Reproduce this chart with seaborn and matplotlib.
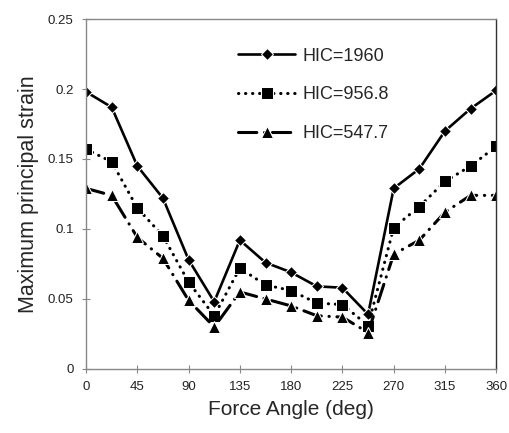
import numpy as np
import pandas as pd
import matplotlib
matplotlib.use("Agg")
import matplotlib.pyplot as plt
import seaborn as sns

sns.set_style("white")
plt.rcParams['font.family'] = ['Liberation Sans', 'DejaVu Sans']

angles = [0, 22.5, 45, 67.5, 90, 112.5, 135, 157.5, 180, 202.5, 225,
          247.5, 270, 292.5, 315, 337.5, 360]
hic_1960 = [0.198, 0.187, 0.145, 0.122, 0.078, 0.048, 0.092, 0.076, 0.069,
            0.059, 0.058, 0.039, 0.129, 0.143, 0.170, 0.186, 0.199]
hic_956 = [0.157, 0.148, 0.115, 0.095, 0.062, 0.038, 0.072, 0.060, 0.056,
           0.047, 0.046, 0.031, 0.101, 0.116, 0.134, 0.145, 0.159]
hic_547 = [0.129, 0.124, 0.094, 0.079, 0.049, 0.030, 0.055, 0.050, 0.045,
           0.038, 0.037, 0.026, 0.082, 0.092, 0.112, 0.124, 0.124]
labels = ['HIC=1960', 'HIC=956.8', 'HIC=547.7']

fig, ax = plt.subplots(figsize=(5.09, 4.33), dpi=100)
fig.subplots_adjust(left=0.169, right=0.975, top=0.956, bottom=0.148)

sns.lineplot(x=angles, y=hic_1960, ax=ax, color='black', lw=1.9,
             marker='D', markersize=6.5, label=labels[0])
sns.lineplot(x=angles, y=hic_956, ax=ax, color='black', lw=2.2,
             linestyle=(0, (0.1, 2.2)), dash_capstyle='round',
             marker='s', markersize=8, label=labels[1])
sns.lineplot(x=angles, y=hic_547, ax=ax, color='black', lw=2.2,
             linestyle=(0, (6, 2.5, 0.1, 2.5)), dash_capstyle='round',
             marker='^', markersize=8.5, label=labels[2])

ax.set_xlim(0, 360)
ax.set_ylim(0, 0.25)
ax.set_xticks(np.arange(0, 361, 45))
ax.set_yticks([0, 0.05, 0.1, 0.15, 0.2, 0.25])
ax.set_yticklabels(['0', '0.05', '0.1', '0.15', '0.2', '0.25'])
ax.tick_params(axis='both', which='major', labelsize=9.5, direction='inout',
               length=6, width=0.8, color='#888888', labelcolor='#222222',
               bottom=True, left=True, pad=6)
for side in ['left', 'bottom', 'top']:
    ax.spines[side].set_color('#888888')
    ax.spines[side].set_linewidth(1.0)
ax.spines['right'].set_color('#333333')
ax.spines['right'].set_linewidth(1.0)

ax.set_xlabel('Force Angle (deg)', fontsize=15, labelpad=5)
ax.set_ylabel('Maximum principal strain', fontsize=15.5, labelpad=6)

ax.legend(loc='upper left', bbox_to_anchor=(0.33, 0.965), frameon=False,
          fontsize=13, handlelength=3.2, labelspacing=1.2, handletextpad=0.4)

fig.savefig('out.png', dpi=100)
